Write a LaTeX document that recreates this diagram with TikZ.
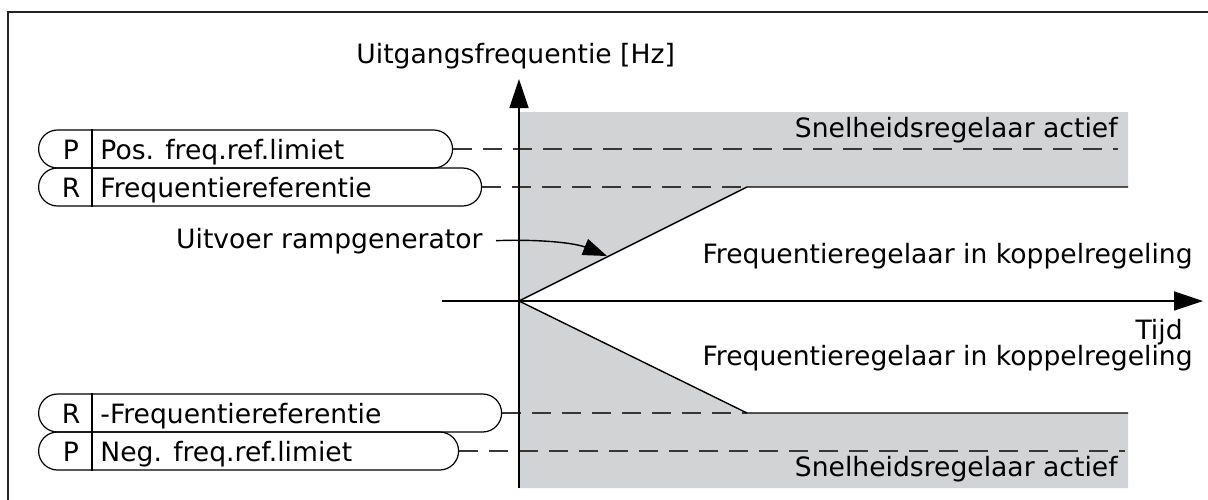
\documentclass[tikz,border=0pt]{standalone}
\usepackage{fontspec}
\setmainfont{DejaVu Sans}
\usetikzlibrary{arrows.meta}
\definecolor{regiongray}{RGB}{210,211,213}
\definecolor{dashc}{RGB}{55,55,55}
\definecolor{framec}{RGB}{35,35,35}
\begin{document}
\begin{tikzpicture}[x=0.5pt,y=-0.5pt,
  lbl/.style={font=\fontsize{13.3}{16}\selectfont, inner sep=0pt},
  pill/.style={draw, line width=0.6pt, rounded corners=9.5pt, minimum height=19pt, inner sep=0pt, anchor=west},
  refline/.style={dashc, line width=0.7pt, dash pattern=on 9.5pt off 5.5pt},
  axisline/.style={line width=0.75pt, -{Triangle[length=14.5pt,width=9.5pt]}},
  plotline/.style={line width=0.7pt},
  divider/.style={line width=0.6pt},
]
\clip (0,0) rectangle (1208,499);
% frame (cropped)
\draw[framec, line width=1pt] (8,520) -- (8,12) -- (1230,12);
% shaded regions
\fill[regiongray] (520,112) -- (1128,112) -- (1128,187) -- (747,187) -- (519,301) -- cycle;
\fill[regiongray] (519,301) -- (747,413) -- (1128,413) -- (1128,488) -- (520,488) -- cycle;

% coordinates
\coordinate (O) at (519,301);
\coordinate (ybot) at (519,488);
\coordinate (ytop) at (519,79);
\coordinate (xleft) at (442,301);
\coordinate (xright) at (1203,301);
\coordinate (k1) at (747,187);
\coordinate (e1) at (1128,187);
\coordinate (k2) at (747,413);
\coordinate (e2) at (1128,413);
\coordinate (d1) at (1118,149);
\coordinate (d2) at (1125,451);

% pills
\node[pill, minimum width=207pt] (pp) at (38,149) {};
\node[pill, minimum width=221.5pt] (rf) at (38,187) {};
\node[pill, minimum width=231.5pt] (rn) at (38,413) {};
\node[pill, minimum width=210pt] (pn) at (38,451) {};
\foreach \n in {pp,rf,rn,pn}{
  \draw[divider] ([xshift=27pt]\n.north west) -- ([xshift=27pt]\n.south west);
}
\node[lbl, anchor=base] (ppk) at (71,159) {P};
\node[lbl, anchor=base west] (ppt) at (100,159) {Pos. freq.ref.limiet};
\node[lbl, anchor=base] (rfk) at (71,197) {R};
\node[lbl, anchor=base west] (rft) at (100,197) {Frequentiereferentie};
\node[lbl, anchor=base] (rnk) at (71,423) {R};
\node[lbl, anchor=base west] (rnt) at (100,423) {-Frequentiereferentie};
\node[lbl, anchor=base] (pnk) at (71,461) {P};
\node[lbl, anchor=base west] (pnt) at (100,461) {Neg. freq.ref.limiet};

% dashed reference lines
\draw[refline] (pp.east) -- (d1);
\draw[refline] (rf.east) -- (k1);
\draw[refline] (rn.east) -- (k2);
\draw[refline] (pn.east) -- (d2);

% ramp lines
\draw[plotline] (O) -- (k1) -- (e1);
\draw[plotline] (O) -- (k2) -- (e2);

% axes
\draw[axisline] (ybot) -- (ytop);
\draw[axisline] (xleft) -- (xright);

% labels
\node[lbl, anchor=base west] (ylab) at (356,63) {Uitgangsfrequentie [Hz]};
\node[lbl, anchor=base east] (s1) at (1118,137) {Snelheidsregelaar actief};
\node[lbl, anchor=base east] (f1) at (1193,263) {Frequentieregelaar in koppelregeling};
\node[lbl, anchor=base east] (tl) at (1183,339) {Tijd};
\node[lbl, anchor=base east] (f2) at (1193,365) {Frequentieregelaar in koppelregeling};
\node[lbl, anchor=base east] (s2) at (1118,476) {Snelheidsregelaar actief};
\node[lbl, anchor=base east] (ramp) at (483,248) {Uitvoer rampgenerator};
\coordinate (rtip) at (607,256);
\draw[line width=0.7pt, -{Triangle[length=12pt,width=8.5pt]}] ([xshift=6.5pt]ramp.east) .. controls (540,239) and (575,243) .. (rtip);
\end{tikzpicture}
\end{document}
